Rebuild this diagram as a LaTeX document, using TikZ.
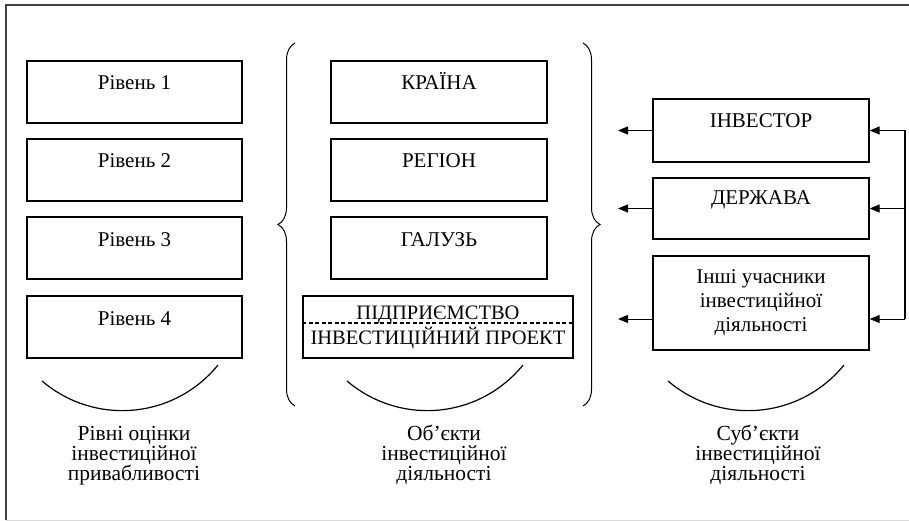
\documentclass[tikz,border=0pt]{standalone}
\usepackage{fontspec}
\setmainfont{Liberation Serif}[Ligatures=ResetAll]
\usetikzlibrary{positioning,arrows.meta,decorations.pathreplacing}

\begin{document}
\begin{tikzpicture}[x=1pt,y=-1pt,font=\fontsize{21}{24}\selectfont,
  box/.style={draw,line width=1.3pt,minimum width=215pt,inner sep=0pt,text height=29pt,text depth=33pt},
  arr/.style={-{Triangle[length=10pt,width=8pt]},line width=1.2pt},
  brc/.style={decorate,decoration={brace,amplitude=17pt},line width=1pt},
  captext/.style={align=center,font=\fontsize{21.5}{20}\selectfont}]
 \useasboundingbox (0,0) rectangle (909,521);
 % frame
 \draw[line width=2pt,black!75] (6,520) -- (6,5) -- (909,5);
 \draw[line width=1pt,black!15] (6,520) -- (909,520);

 % levels
 \node[box] (l_1) at (134.5,92) {Рівень 1};
 \node[box] (l_2) at (134.5,170) {Рівень 2};
 \node[box] (l_3) at (134.5,248) {Рівень 3};
 \node[box] (l_4) at (134.5,327) {Рівень 4};

 % objects
 \node[box,minimum width=216pt] (o_1) at (439,92) {КРАЇНА};
 \node[box,minimum width=216pt] (o_2) at (439,170) {РЕГІОН};
 \node[box,minimum width=216pt] (o_3) at (439,248) {ГАЛУЗЬ};
 \node[draw,line width=1.3pt,minimum width=270pt,minimum height=62pt,inner sep=0pt,
  align=center,font=\fontsize{20.5}{25}\selectfont] (o_4) at (438,327)
  {ПІДПРИЄМСТВО\\ІНВЕСТИЦІЙНИЙ ПРОЕКТ};
 \draw[line width=1.3pt,dash pattern=on 4pt off 2.5pt] (o_4.west |- 0,323) -- (o_4.east |- 0,323);

 % subjects
 \node[box,minimum width=216pt,text depth=34pt] (s_1) at (761,130.5) {ІНВЕСТОР};
 \node[box,minimum width=216pt,text height=27pt,text depth=34pt] (s_2) at (761,208.5) {ДЕРЖАВА};
 \node[draw,line width=1.3pt,minimum width=216pt,minimum height=94pt,inner sep=0pt,
  align=center] (s_3) at (761,303) {Інші учасники\\інвестиційної\\діяльності};

 % braces
 \coordinate (b_1) at (295,406);
 \coordinate (b_2) at (295,43);
 \coordinate (b_3) at (583,43);
 \coordinate (b_4) at (583,406);
 \draw[brc] (b_1) -- (b_2);
 \draw[brc] (b_3) -- (b_4);

 % arrows
 \coordinate (a_1) at (618,130.5);
 \coordinate (a_2) at (618,208.5);
 \coordinate (a_3) at (618,319);
 \coordinate (f_1) at (905,130.5);
 \coordinate (f_2) at (905,208.5);
 \coordinate (f_3) at (905,319);
 \draw[arr] (s_1) -- (a_1);
 \draw[arr] (s_2) -- (a_2);
 \draw[arr,line width=0.9pt] (a_3 -| s_3.west) -- (a_3);
 \draw[line width=1.2pt] (f_1) -- (f_3);
 \draw[arr] (f_1) -- (s_1);
 \draw[arr] (f_2) -- (s_2);
 \draw[arr,line width=0.9pt] (f_3) -- (f_3 -| s_3.east);

 % arcs
 \foreach \dx in {0,305,626}
  \draw[line width=1.2pt] (42+\dx,381) .. controls (95+\dx,426) and (174+\dx,419) .. (218+\dx,365);

 % captions (base = last line)
 \node[captext,anchor=base] (c_1) at (134,480) {Рівні оцінки\\інвестиційної\\привабливості};
 \node[captext,anchor=base] (c_2) at (444,480) {Об'єкти\\інвестиційної\\діяльності};
 \node[captext,anchor=base] (c_3) at (758,480) {Суб'єкти\\інвестиційної\\діяльності};
\end{tikzpicture}
\end{document}
